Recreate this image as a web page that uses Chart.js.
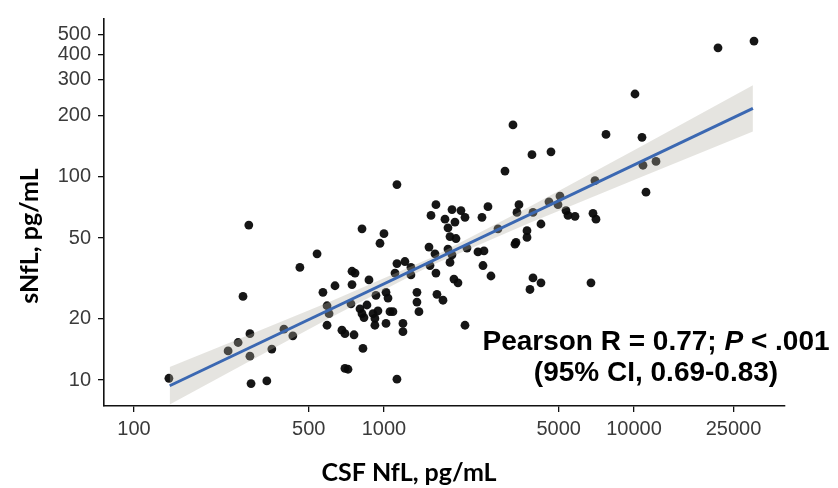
<!DOCTYPE html>
<html>
<head>
<meta charset="utf-8">
<script src="https://cdn.jsdelivr.net/npm/chart.js@4.4.0/dist/chart.umd.min.js"></script>
<style>
html,body{margin:0;padding:0;background:#fff;}
canvas{display:block;}
</style>
</head>
<body>
<canvas id="chart" width="838" height="488"></canvas>
<script>
// CSF NfL (x) vs serum NfL (y), pg/mL
const csfNfl = [138,238,261,273,288,291,291,294,340,356,398,432,461,540,570,592,603,592,637,679,
  698,698,718,738,745,766,745,759,802,817,832,817,824,855,871,904,920,920,946,964,
  1000,929,1019,1038,1019,1057,1086,1127,1127,1213,1107,1282,1282,1191,1191,1127,1355,1355,1380,1528,
  1514,1600,1614,1629,1722,1542,1614,1754,1871,2032,2109,1923,1803,1837,1941,1803,1871,1837,1905,1977,
  2109,2148,2377,2512,2489,2679,2466,2606,2858,3048,3281,3404,3467,3373,3342,3733,3733,3908,4656,3945,
  4246,3945,4246,3837,4571,5058,4966,5346,5445,5808,6855,7047,6982,6730,7727,10765,10864,12246,11169,10093,
  21677,30200];
const sNfl = [10.2,13.9,15.3,25.8,57.9,16.9,13.1,9.6,9.9,14.2,17.8,16.5,35.8,41.8,27.0,23.2,21.2,18.6,29.1,17.6,
  16.9,11.4,11.3,23.7,34.3,33.6,29.5,16.7,22.4,21.2,20.3,55.5,14.3,23.4,31.1,21.2,20.1,18.6,21.9,47.1,
  52.5,26.1,27.0,25.3,19.0,21.7,21.7,91.6,37.4,38.3,33.6,35.8,32.9,19.0,17.3,10.1,27.0,24.2,21.7,36.6,
  45.1,41.8,33.6,26.4,24.7,64.6,72.9,61.9,69.0,68.2,63.2,59.9,56.1,50.8,49.7,44.1,41.3,37.9,31.4,30.1,
  18.6,44.6,42.7,43.2,36.6,32.5,63.2,71.3,55.5,106.7,180,66.8,72.9,47.6,46.6,54.3,50.3,128.5,132.8,66.8,
  58.6,31.8,30.1,27.9,75.3,80.4,72.9,68.2,64.6,63.9,66.1,61.9,95.7,30.1,161.6,156.4,114,119,84.0,255.6,
  431.5,465.8];

// regression line ends and 95% band, read at a few x positions
const fitX = [139, 29900];
const fitY = [9.37, 217];
const bandX = [139, 291, 607, 1528, 3837, 10570, 29900];
const bandLow = [7.57, 12.4, 20.2, 36.4, 59.5, 99.3, 167];
const bandHigh = [11.6, 16.75, 24.3, 39.7, 71.4, 140.4, 282];

const xTicks = [100, 500, 1000, 5000, 10000, 25000];
const yTicks = [10, 20, 50, 100, 200, 300, 400, 500];

const xTitle = 'CSF NfL, pg/mL';
const yTitle = 'sNfL, pg/mL';
const statLine1 = [['Pearson R = 0.77; ', 'bold'], ['P', 'italic bold'], [' < .001', 'bold']];
const statLine2 = '(95% CI, 0.69-0.83)';

const pts = csfNfl.map((x, i) => ({x: x, y: sNfl[i]}));
const fit = fitX.map((x, i) => ({x: x, y: fitY[i]}));
const low = bandX.map((x, i) => ({x: x, y: bandLow[i]}));
const high = bandX.map((x, i) => ({x: x, y: bandHigh[i]}));

// axis titles and the stats note
const textPlugin = {
  id: 'textPlugin',
  afterDraw(chart){
    const ctx = chart.ctx;
    ctx.save();
    ctx.fillStyle = '#000';
    ctx.textBaseline = 'alphabetic';
    ctx.textAlign = 'center';
    ctx.font = 'bold 25px Lato';
    ctx.fillText(xTitle, 409, 481);
    ctx.save();
    ctx.translate(38, 236);
    ctx.rotate(-Math.PI/2);
    ctx.fillText(yTitle, 0, 0);
    ctx.restore();

    // first line has an italic P
    let total = 0;
    statLine1.forEach(p => {
      ctx.font = p[1] + ' 28px "Liberation Sans"';
      total += ctx.measureText(p[0]).width;
    });
    let x = 656 - total/2;
    ctx.textAlign = 'left';
    statLine1.forEach(p => {
      ctx.font = p[1] + ' 28px "Liberation Sans"';
      ctx.fillText(p[0], x, 350);
      x += ctx.measureText(p[0]).width;
    });
    ctx.textAlign = 'center';
    ctx.font = 'bold 28px "Liberation Sans"';
    ctx.fillText(statLine2, 656, 381);
    ctx.restore();
  }
};

const tickFont = {family: '"Liberation Sans", Arial, sans-serif', size: 20};

new Chart(document.getElementById('chart'), {
  type: 'scatter',
  data: {
    datasets: [
      {label: 'fit', type: 'line', data: fit, borderColor: '#3b68b2', borderWidth: 3,
        pointRadius: 0, fill: false, order: 1},
      {label: 'low', type: 'line', data: low, borderWidth: 0, borderColor: 'rgba(0,0,0,0)',
        pointRadius: 0, fill: false, order: 2},
      {label: 'high', type: 'line', data: high, borderWidth: 0, borderColor: 'rgba(0,0,0,0)',
        pointRadius: 0, fill: '-1', backgroundColor: 'rgba(175,172,160,0.33)', order: 2},
      {label: 'points', data: pts, pointRadius: 4.4, pointBackgroundColor: 'rgba(10,10,10,0.95)',
        pointBorderWidth: 0, order: 3}
    ]
  },
  options: {
    responsive: false,
    animation: false,
    layout: {padding: {top: 4, right: 53, bottom: 0, left: 0}},
    plugins: {legend: {display: false}, tooltip: {enabled: false}},
    scales: {
      x: {
        type: 'logarithmic', min: 75.9, max: 40180,
        afterBuildTicks: s => { s.ticks = xTicks.map(v => ({value: v})); },
        afterFit: s => { s.height = 82; },
        grid: {drawOnChartArea: false, drawTicks: true, tickLength: 6, color: '#111', lineWidth: 1.3},
        border: {display: true, color: '#111', width: 1.6},
        ticks: {autoSkip: false, maxRotation: 0, padding: 5, color: '#3a3a3a', font: tickFont,
          callback: v => String(v)}
      },
      y: {
        type: 'logarithmic', min: 7.45, max: 598,
        afterBuildTicks: s => { s.ticks = yTicks.map(v => ({value: v})); },
        afterFit: s => { s.width = 104; },
        grid: {drawOnChartArea: false, drawTicks: true, tickLength: 6, color: '#111', lineWidth: 1.3},
        border: {display: true, color: '#111', width: 1.6},
        ticks: {autoSkip: false, padding: 7, color: '#3a3a3a', font: tickFont,
          callback: v => String(v)}
      }
    }
  },
  plugins: [textPlugin]
});
</script>
</body>
</html>
